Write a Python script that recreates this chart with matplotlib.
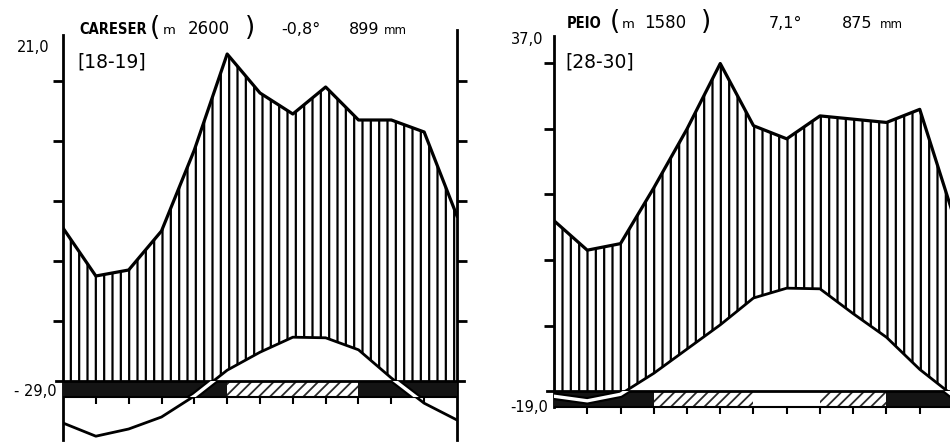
import numpy as np
import matplotlib.pyplot as plt

plt.rcParams['hatch.linewidth'] = 1.6
plt.rcParams['font.family'] = 'DejaVu Sans'

W, H = 950, 447

mesi = np.arange(13)

# Careser (m 2600): temperature medie (°C) e precipitazioni (mm)
careser_temp = [-7.0, -9.2, -8.0, -6.0, -2.5, 1.8, 4.8, 7.3, 7.2, 5.2, 0.5, -3.7, -6.5]
careser_prec = [51, 35, 37, 50, 77, 109, 96, 89, 98, 87, 87, 83, 55]
# n = gelo sicuro, p = gelo possibile, b = senza gelo
careser_gelo = ['n', 'n', 'n', 'n', 'n', 'p', 'p', 'p', 'p', 'n', 'n', 'n']

# Peio (m 1580)
peio_temp = [-0.8, -1.5, -0.5, 2.7, 6.4, 10.1, 14.2, 15.7, 15.6, 11.8, 8.2, 3.3, -0.7]
peio_prec = [52, 43, 45, 62, 80, 100, 81, 77, 84, 83, 82, 86, 54]
peio_gelo = ['n', 'n', 'n', 'p', 'p', 'p', 'b', 'b', 'p', 'p', 'n', 'n']


def px(x, y):
    return x / W, 1 - y / H


def diagramma(ax, temp, prec, gelo, h_barra, fondo_sx):
    temp = np.array(temp, dtype=float)
    prec = np.array(prec, dtype=float) / 2   # 10 gradi = 20 mm

    xf = np.linspace(0, 12, 1201)
    tf = np.interp(xf, mesi, temp)
    pf = np.interp(xf, mesi, prec)
    ax.fill_between(xf, np.maximum(tf, 0), pf, facecolor='none',
                    edgecolor='k', hatch='||', linewidth=0, zorder=1)
    ax.plot(mesi, prec, color='k', lw=2.3, zorder=2)
    ax.plot(mesi, temp, color='k', lw=2, zorder=2)

    # barra dei mesi di gelo
    stili = {'n': ('#141414', None), 'p': ('white', '///'), 'b': ('white', None)}
    for i, g in enumerate(gelo):
        fc, tratt = stili[g]
        b = ax.bar(i, h_barra, bottom=-h_barra, width=1, align='edge',
                   color=fc, hatch=tratt, edgecolor='#2a2a2a', linewidth=0, zorder=3)
        if tratt and hasattr(b[0], 'set_hatch_linewidth'):
            b[0].set_hatch_linewidth(1.3)

    ax.plot([-0.2, 12.2], [0, 0], color='k', lw=2, clip_on=False, zorder=4)
    ax.plot([0, 12], [-h_barra, -h_barra], color='k', lw=1.5, zorder=4)
    ax.plot(mesi[1:12], np.full(11, -h_barra), ls='none', marker=3, ms=5,
            mew=1.5, color='k', zorder=4)

    # temperatura dentro la barra: linea doppia
    rett = plt.Rectangle((0, -h_barra), 12, h_barra, transform=ax.transData)
    for lw, c in ((5.5, 'k'), (2.4, 'white')):
        l, = ax.plot(mesi, temp, color=c, lw=lw, zorder=5)
        l.set_clip_path(rett)

    ax.set_xlim(0, 12)
    ax.set_xticks([])
    ax.set_yticks([10, 20, 30, 40, 50])
    ax.tick_params(axis='y', left=True, right=True, labelleft=False,
                   labelright=False, direction='out', length=7, width=2)
    for s in ('top', 'bottom'):
        ax.spines[s].set_visible(False)
    lo, hi = ax.get_ylim()
    ax.spines['left'].set_bounds(fondo_sx, hi - 1.2)
    ax.spines['right'].set_bounds(lo + 0.3, hi - 0.3)
    for s in ('left', 'right'):
        ax.spines[s].set_linewidth(2)
    ax.patch.set_visible(False)


def intestazione(x, y, nome, quota, temp_media, prec_annua, anni):
    # x: posizioni orizzontali (px) di nome, "(", "m", quota, ")", temperatura, mm
    fig.text(*px(x[0], y), nome, ha='left', va='center', fontsize=10.5,
             fontweight='bold', fontstretch='condensed')
    fig.text(*px(x[1], y - 1), '(', ha='center', va='center', fontsize=19)
    fig.text(*px(x[2], y + 2), 'm', ha='center', va='center', fontsize=9.5)
    fig.text(*px(x[3], y), quota, ha='center', va='center', fontsize=12)
    fig.text(*px(x[4], y - 1), ')', ha='center', va='center', fontsize=19)
    fig.text(*px(x[5], y), temp_media, ha='center', va='center', fontsize=11.5)
    fig.text(*px(x[6], y), prec_annua, ha='center', va='center', fontsize=11.5)
    fig.text(*px(x[7], y + 1), 'mm', ha='center', va='center', fontsize=8.5)
    fig.text(*px(x[0] - 2, 62), anni, ha='left', va='center', fontsize=13.5)


fig = plt.figure(figsize=(W / 100, H / 100), dpi=100)

# Careser: 0 gradi a y=381 px, 6 px per grado
ax1 = fig.add_axes([63 / W, 5 / H, 394 / W, 414 / H])
ax1.set_ylim((381 - 442) / 6, (381 - 28) / 6)
diagramma(ax1, careser_temp, careser_prec, careser_gelo, 16 / 6, (381 - 440) / 6)

# Peio: 0 gradi a y=391 px, 6.55 px per grado
ax2 = fig.add_axes([554 / W, 5 / H, 399 / W, 414 / H])
ax2.set_ylim((391 - 442) / 6.55, (391 - 28) / 6.55)
diagramma(ax2, peio_temp, peio_prec, peio_gelo, 16 / 6.55, -16 / 6.55)

intestazione([79, 155, 169, 209, 250, 301, 364, 395], 29,
             'CARESER', '2600', '-0,8°', '899', '[18-19]')
intestazione([567, 615, 628, 665, 706, 786, 857, 891], 23,
             'PEIO', '1580', '7,1°', '875', '[28-30]')

fig.text(*px(50, 47), '21,0', ha='right', va='center', fontsize=10.5)
fig.text(*px(57, 391), '- 29,0', ha='right', va='center', fontsize=10.5)
fig.text(*px(543, 40), '37,0', ha='right', va='center', fontsize=10.5)
fig.text(*px(548, 407), '-19,0', ha='right', va='center', fontsize=10.5)

fig.savefig('out.png', dpi=100)
